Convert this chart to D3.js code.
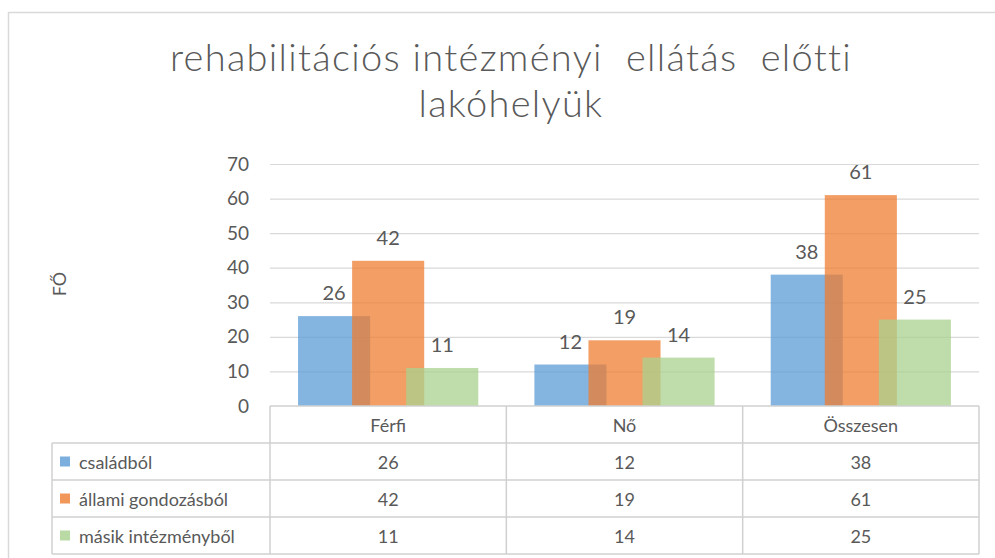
<!DOCTYPE html>
<html>
<head>
<meta charset="utf-8">
<script src="https://cdn.jsdelivr.net/npm/d3@7"></script>
<style>
  body { margin: 0; background: #fff; }
  text { font-family: Lato, "Open Sans", sans-serif; fill: #595959; }
</style>
</head>
<body>
<div id="chart"></div>
<script>
var svgWidth = 995;
var svgHeight = 558;

var categories = ["Férfi", "Nő", "Összesen"];
var seriesNames = ["családból", "állami gondozásból", "másik intézményből"];
var csaladbol = [26, 12, 38];
var allami = [42, 19, 61];
var masik = [11, 14, 25];
var yTicks = [0, 10, 20, 30, 40, 50, 60, 70];
var colors = ["#5b9bd5", "#ed7d31", "#a9d18e"];

var seriesValues = [csaladbol, allami, masik];

var plot = { left: 270, right: 979, top: 164, bottom: 406 };
var rowH = 37;
var legendLeft = 52;

var svg = d3.select("#chart")
  .append("svg")
  .attr("width", svgWidth)
  .attr("height", svgHeight);

// chart border
svg.append("rect")
  .attr("x", 8.5).attr("y", 12.5)
  .attr("width", 1000).attr("height", 560)
  .attr("fill", "none")
  .attr("stroke", "#d9d9d9")
  .attr("stroke-width", 1.5);

// title
var title = svg.append("text")
  .attr("text-anchor", "middle")
  .style("font-size", "38px")
  .style("font-weight", 300)
  .style("letter-spacing", "1.3px");
title.append("tspan").attr("x", 511).attr("y", 71).text("rehabilitációs intézményi  ellátás  előtti").attr("xml:space", "preserve");
title.append("tspan").attr("x", 511).attr("y", 117).text("lakóhelyük");

var x = d3.scaleBand()
  .domain(categories)
  .range([plot.left, plot.right]);

var y = d3.scaleLinear()
  .domain([0, 70])
  .range([plot.bottom, plot.top]);

var barW = x.bandwidth() * 0.305;
var step = barW * 0.75;

// gridlines
svg.append("g")
  .selectAll("line")
  .data(yTicks.slice(1))
  .enter()
  .append("line")
  .attr("x1", plot.left).attr("x2", plot.right)
  .attr("y1", d => y(d) + 0.5).attr("y2", d => y(d) + 0.5)
  .attr("stroke", "#d9d9d9")
  .attr("stroke-width", 1.2);

// y axis labels
var leftAxis = d3.axisLeft(y).tickValues(yTicks).tickSize(0).tickPadding(0);
var axisG = svg.append("g")
  .attr("transform", `translate(249, 0)`)
  .call(leftAxis);
axisG.select(".domain").remove();
axisG.selectAll("text")
  .style("font-size", "19px")
  .style("font-family", "Lato, sans-serif")
  .attr("fill", "#595959");

svg.append("text")
  .attr("transform", "translate(66, 284) rotate(-90)")
  .attr("text-anchor", "middle")
  .style("font-size", "18px")
  .text("FŐ");

// bars
seriesValues.forEach(function(vals, i) {
  var cx = d => x(categories[d]) + x.bandwidth() / 2 + (i - 1) * step;
  var g = svg.append("g");
  g.selectAll("rect")
    .data(vals.map((v, j) => j))
    .enter()
    .append("rect")
    .attr("x", j => cx(j) - barW / 2)
    .attr("y", j => y(vals[j]))
    .attr("width", barW)
    .attr("height", j => y(0) - y(vals[j]))
    .attr("fill", colors[i])
    .attr("fill-opacity", 0.75);
  g.selectAll("text")
    .data(vals.map((v, j) => j))
    .enter()
    .append("text")
    .attr("x", j => cx(j))
    .attr("y", j => y(vals[j]) - 16)
    .attr("text-anchor", "middle")
    .style("font-size", "20px")
    .text(j => vals[j]);
});

// data table
var tableG = svg.append("g");
var lineColor = "#d0d0d0";
function hline(x1, x2, yy) {
  tableG.append("line").attr("x1", x1).attr("x2", x2).attr("y1", yy).attr("y2", yy)
    .attr("stroke", lineColor).attr("stroke-width", 1.5);
}
function vline(xx, y1, y2) {
  tableG.append("line").attr("x1", xx).attr("x2", xx).attr("y1", y1).attr("y2", y2)
    .attr("stroke", lineColor).attr("stroke-width", 1.5);
}
var t0 = plot.bottom;
hline(plot.left, plot.right, t0);
for (var r = 1; r <= 4; r++) hline(legendLeft, plot.right, t0 + r * rowH);
vline(legendLeft, t0 + rowH, t0 + 4 * rowH);
categories.forEach(function(c) { vline(x(c), t0, t0 + 4 * rowH); });
vline(plot.right, t0, t0 + 4 * rowH);

tableG.selectAll(".cat")
  .data(categories)
  .enter()
  .append("text")
  .attr("x", d => x(d) + x.bandwidth() / 2)
  .attr("y", t0 + rowH / 2 + 7)
  .attr("text-anchor", "middle")
  .style("font-size", "18px")
  .text(d => d);

seriesValues.forEach(function(vals, i) {
  var ry = t0 + (i + 1) * rowH;
  tableG.append("rect")
    .attr("x", 60).attr("y", ry + rowH / 2 - 5)
    .attr("width", 10).attr("height", 10)
    .attr("fill", colors[i]).attr("fill-opacity", 0.8);
  tableG.append("text")
    .attr("x", 79).attr("y", ry + rowH / 2 + 7)
    .style("font-size", "18px")
    .text(seriesNames[i]);
  tableG.selectAll(".v" + i)
    .data(vals)
    .enter()
    .append("text")
    .attr("x", (d, j) => x(categories[j]) + x.bandwidth() / 2)
    .attr("y", ry + rowH / 2 + 7)
    .attr("text-anchor", "middle")
    .style("font-size", "18px")
    .text(d => d);
});
</script>
</body>
</html>
